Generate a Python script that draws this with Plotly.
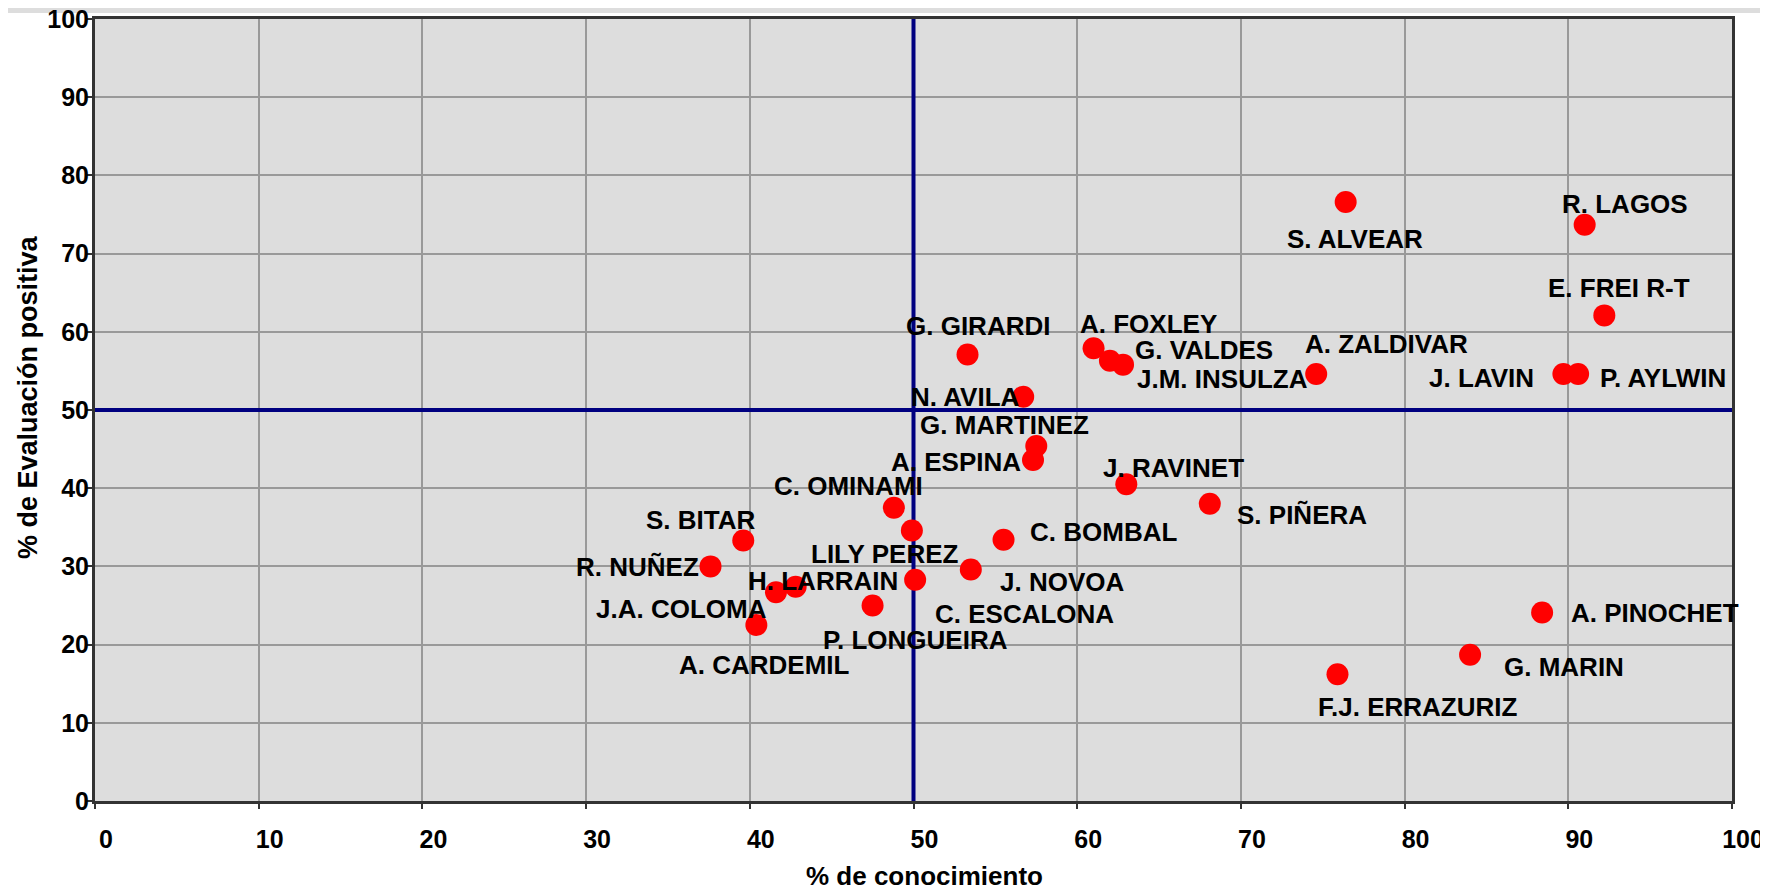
import plotly.graph_objects as go

# ---- data ----
names = ["R. LAGOS", "S. ALVEAR", "E. FREI R-T", "A. ZALDIVAR", "J. LAVIN", "P. AYLWIN",
         "A. PINOCHET", "G. MARIN", "F.J. ERRAZURIZ",
         "G. GIRARDI", "A. FOXLEY", "G. VALDES", "J.M. INSULZA", "N. AVILA",
         "G. MARTINEZ", "A. ESPINA", "J. RAVINET", "S. PIÑERA",
         "C. OMINAMI", "LILY PEREZ", "C. ESCALONA", "J. NOVOA", "C. BOMBAL",
         "S. BITAR", "R. NUÑEZ", "H. LARRAIN", "J.A. COLOMA", "A. CARDEMIL", "P. LONGUEIRA"]
conocimiento = [91.0, 76.4, 92.2, 74.6, 89.7, 90.6,
                88.4, 84.0, 75.9,
                53.3, 61.0, 62.0, 62.8, 56.7,
                57.5, 57.3, 63.0, 68.1,
                48.8, 49.9, 50.1, 53.5, 55.5,
                39.6, 37.6, 42.8, 41.6, 40.4, 47.5]
evaluacion = [73.7, 76.6, 62.1, 54.6, 54.6, 54.6,
              24.1, 18.7, 16.2,
              57.1, 57.9, 56.3, 55.8, 51.7,
              45.4, 43.6, 40.5, 38.0,
              37.5, 34.6, 28.3, 29.6, 33.4,
              33.3, 30.0, 27.4, 26.7, 22.5, 25.0]

# label offsets from each point, in pixels (style/placement only)
label_dx = [40, 9, 15, 70, -82, 85,
            113, 94, 80,
            10, 55, 94, 99, -58,
            -32, -77, 47, 92,
            -45, -27, 109, 91, 100,
            -42, -73, 27, -94, 8, 43]
label_dy = [21, -37, 27, 30, -4, -4,
            0, -12, -33,
            28, 24, 11, -14, 0,
            21, -2, 16, -11,
            22, -24, -34, -12, 8,
            21, -1, 6, -17, -40, -34]

x_ticks = [0, 10, 20, 30, 40, 50, 60, 70, 80, 90, 100]
y_ticks = [0, 10, 20, 30, 40, 50, 60, 70, 80, 90, 100]
axis_range = [0, 100]
x_ref = 50
y_ref = 50

FONT = "Liberation Sans, Arial, sans-serif"
# page has an 8px body margin at top/left; figure reaches the window's right/bottom edge
OFF = 8
W, H = 1768 - OFF, 894 - OFF
ML, MT = 95 - OFF, 19 - OFF
PW, PH = 1637, 782
MR, MB = W - ML - PW, H - MT - PH

fig = go.Figure()
# reference lines at 50 (below the markers)
fig.add_trace(go.Scatter(x=[x_ref, x_ref], y=axis_range, mode="lines",
                         line=dict(color="#000080", width=4),
                         hoverinfo="skip", showlegend=False))
fig.add_trace(go.Scatter(x=axis_range, y=[y_ref, y_ref], mode="lines",
                         line=dict(color="#000080", width=4),
                         hoverinfo="skip", showlegend=False))
fig.add_trace(go.Scatter(
    x=conocimiento, y=evaluacion, mode="markers",
    marker=dict(color="#FF0000", size=22, line=dict(width=0)),
    text=names, hoverinfo="text", showlegend=False, cliponaxis=False))

for n, xv, yv, dx, dy in zip(names, conocimiento, evaluacion, label_dx, label_dy):
    fig.add_annotation(x=xv, y=yv, xref="x", yref="y", text=n, showarrow=False,
                       xshift=dx, yshift=dy, xanchor="center", yanchor="middle",
                       font=dict(family=FONT, size=26, color="black", weight="bold"))

# grey band at top of the page
fig.add_shape(type="rect", xref="paper", yref="paper",
              x0=-ML / PW - 0.01, x1=1 + MR / PW + 0.01,
              y0=1 + (MT - 5) / PH, y1=1 + MT / PH + 0.01,
              fillcolor="#DDDDDD", line=dict(width=0), layer="below")

axis_common = dict(range=axis_range, showgrid=True, gridcolor="#999999", gridwidth=2,
                   zeroline=False, showline=True, linecolor="#333333", linewidth=3,
                   mirror=True, ticks="outside", ticklen=5, tickwidth=2, tickcolor="#333333",
                   ticklabeloverflow="allow", automargin=False,
                   tickfont=dict(family=FONT, size=25, color="black", weight="bold"))

fig.update_xaxes(tickvals=x_ticks, ticktext=[str(v) for v in x_ticks],
                 ticklabelshift=11, ticklabelstandoff=9, **axis_common)
fig.update_yaxes(tickvals=y_ticks, ticktext=[str(v) for v in y_ticks],
                 ticklabelstandoff=-7, **axis_common)

fig.add_annotation(x=(924 - OFF - ML) / PW, y=-(876 - OFF - (MT + PH)) / PH,
                   xref="paper", yref="paper",
                   text="% de conocimiento", showarrow=False, xanchor="center", yanchor="middle",
                   font=dict(family=FONT, size=26, color="black", weight="bold"))
fig.add_annotation(x=(28 - OFF - ML) / PW, y=((MT + PH) - (397 - OFF)) / PH,
                   xref="paper", yref="paper",
                   text="% de Evaluación positiva", showarrow=False, textangle=-90,
                   xanchor="center", yanchor="middle",
                   font=dict(family=FONT, size=27, color="black", weight="bold"))

fig.update_layout(width=W, height=H, margin=dict(l=ML, r=MR, t=MT, b=MB, autoexpand=False),
                  plot_bgcolor="#DDDDDD", paper_bgcolor="white", showlegend=False)

fig.write_html("out.html")
